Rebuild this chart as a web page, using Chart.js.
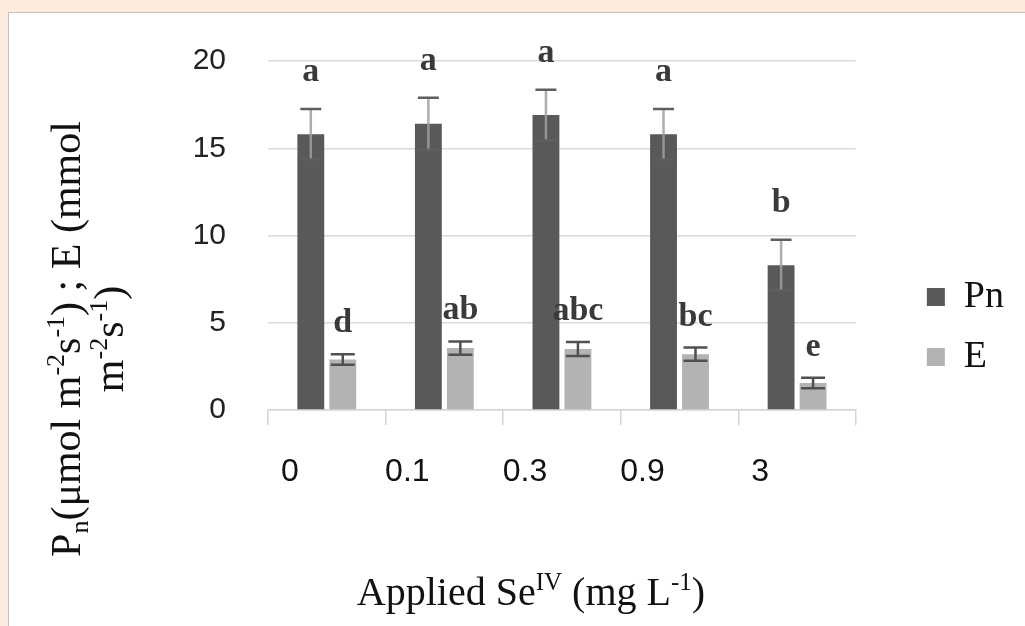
<!DOCTYPE html>
<html lang="en">
<head>
<meta charset="UTF-8">
<title>Pn and E under applied Se(IV)</title>
<script src="https://cdn.jsdelivr.net/npm/chart.js"></script>
<style>
  body { margin: 0; background: #fcece0; width: 1025px; height: 626px; overflow: hidden; position: relative; }
  #frame { position: absolute; left: 8px; top: 12px; width: 1040px; height: 640px; background: #fff; border: 1.5px solid #cbbfb6; }
  #chart { position: absolute; left: 0; top: 0; }
</style>
</head>
<body>
<div id="frame"></div>
<canvas id="chart" width="1025" height="626"></canvas>

<script>
// applied Se(IV), mg/L
const doses = ['0', '0.1', '0.3', '0.9', '3'];

// net photosynthesis Pn and transpiration E, with error bars and significance letters
const pn = [15.8, 16.4, 16.9, 15.8, 8.3];
const pnErr = [1.45, 1.5, 1.45, 1.45, 1.45];
const pnLetters = ['a', 'a', 'a', 'a', 'b'];

const e = [2.9, 3.55, 3.5, 3.2, 1.55];
const eErr = [0.3, 0.38, 0.4, 0.38, 0.3];
const eLetters = ['d', 'ab', 'abc', 'bc', 'e'];

const serif = '"Liberation Serif", "Times New Roman", serif';

// draws text made of normal / superscript (1) / subscript (-1) parts, centred on x
function richText(ctx, parts, x, y, size, rotate) {
    const fontFor = m => (m ? Math.round(size * 0.62) : size) + 'px ' + serif;
    ctx.save();
    ctx.translate(x, y);
    if (rotate) ctx.rotate(-Math.PI / 2);
    let w = 0;
    parts.forEach(([t, m]) => { ctx.font = fontFor(m); w += ctx.measureText(t).width; });
    let cx = -w / 2;
    ctx.textAlign = 'left';
    ctx.textBaseline = 'alphabetic';
    ctx.fillStyle = '#111';
    parts.forEach(([t, m]) => {
        ctx.font = fontFor(m);
        const dy = m === 1 ? -size * 0.38 : (m === -1 ? size * 0.2 : 0);
        ctx.fillText(t, cx, dy);
        cx += ctx.measureText(t).width;
    });
    ctx.restore();
}

const errorBars = {
    id: 'errorBars',
    afterDatasetsDraw(chart) {
        const ctx = chart.ctx;
        const y = chart.scales.y;
        chart.data.datasets.forEach((ds, di) => {
            const meta = chart.getDatasetMeta(di);
            meta.data.forEach((bar, i) => {
                const top = y.getPixelForValue(ds.data[i] + ds.errors[i]);
                const bot = y.getPixelForValue(ds.data[i] - ds.errors[i]);
                const half = ds.capWidth / 2;
                ctx.save();
                ctx.lineWidth = 2.5;
                ctx.strokeStyle = ds.stemColor;
                ctx.beginPath();
                ctx.moveTo(bar.x, top);
                ctx.lineTo(bar.x, bot);
                ctx.stroke();
                ctx.strokeStyle = ds.capColor;
                ctx.beginPath();
                ctx.moveTo(bar.x - half, top);
                ctx.lineTo(bar.x + half, top);
                ctx.moveTo(bar.x - half, bot);
                ctx.lineTo(bar.x + half, bot);
                ctx.stroke();

                // significance letter above the error bar
                ctx.fillStyle = '#3a3a3a';
                ctx.font = 'bold 34px ' + serif;
                ctx.textAlign = 'center';
                ctx.textBaseline = 'alphabetic';
                ctx.fillText(ds.letters[i], bar.x, top - ds.letterGap);
                ctx.restore();
            });
        });
    }
};

const axisTitles = {
    id: 'axisTitles',
    afterDraw(chart) {
        const ctx = chart.ctx;
        const a = chart.chartArea;
        richText(ctx, [['Applied Se', 0], ['IV', 1], [' (mg L', 0], ['-1', 1], [')', 0]],
            a.left + 263, a.bottom + 195, 40, false);
        richText(ctx, [['P', 0], ['n', -1], ['(\u03bcmol m', 0], ['-2', 1], ['s', 0], ['-1', 1], [') ; E (mmol', 0]],
            a.left - 188, a.top + 278, 42, true);
        richText(ctx, [['m', 0], ['-2', 1], ['s', 0], ['-1', 1], [')', 0]],
            a.left - 145, a.top + 278, 42, true);
    }
};

new Chart(document.getElementById('chart'), {
    type: 'bar',
    data: {
        labels: doses,
        datasets: [
            {
                label: 'Pn', data: pn, errors: pnErr, letters: pnLetters,
                backgroundColor: '#595959', stemColor: 'rgba(160,160,160,0.85)', capColor: '#5f5f5f',
                capWidth: 21, letterGap: 28
            },
            {
                label: 'E', data: e, errors: eErr, letters: eLetters,
                backgroundColor: '#b3b3b3', stemColor: '#505050', capColor: '#505050',
                capWidth: 24, letterGap: 22
            }
        ]
    },
    options: {
        responsive: false,
        animation: false,
        categoryPercentage: 0.544,
        barPercentage: 0.84,
        layout: { padding: { top: 61, right: 11, bottom: 33, left: 0 } },
        plugins: {
            tooltip: { enabled: false },
            legend: {
                position: 'right',
                labels: {
                    boxWidth: 18, boxHeight: 18, padding: 22, color: '#111',
                    font: { family: serif, size: 38 }
                }
            }
        },
        scales: {
            x: {
                grid: { offset: true, drawOnChartArea: false, tickLength: 15, color: '#d4d4d4', lineWidth: 1.5 },
                border: { color: '#d4d4d4', width: 1.5 },
                ticks: {
                    color: '#111', padding: 28, labelOffset: -37,
                    font: { family: '"Liberation Sans", sans-serif', size: 32 }
                },
                afterFit(s) { s.height = 626 - 410 - 33; }
            },
            y: {
                min: 0, max: 20,
                ticks: { stepSize: 5, color: '#222', padding: 42, font: { family: '"Liberation Sans", sans-serif', size: 30 } },
                grid: { color: '#dadada', lineWidth: 1.5, drawTicks: false },
                border: { display: false },
                afterFit(s) { s.width = 268; }
            },
            // empty spacer between the plot and the legend
            gap: {
                position: 'right', display: true,
                grid: { display: false }, ticks: { display: false }, border: { display: false },
                afterFit(s) { s.width = 49; }
            }
        }
    },
    plugins: [errorBars, axisTitles]
});
</script>
</body>
</html>
